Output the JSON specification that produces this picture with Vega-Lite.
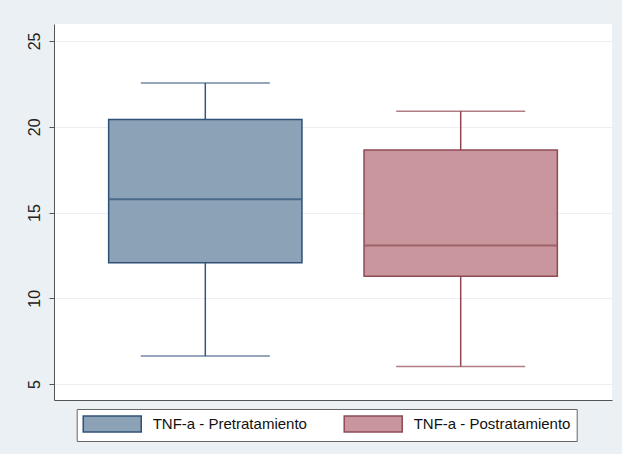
{
  "$schema": "https://vega.github.io/schema/vega-lite/v6.json",
  "width": 558,
  "height": 376,
  "autosize": {"type": "none"},
  "padding": {"left": 54, "top": 24, "right": 10, "bottom": 54},
  "background": "#eaf0f3",
  "config": {
    "view": {"fill": "white", "stroke": null},
    "font": "Liberation Sans",
    "legend": {
      "title": null,
      "orient": "none",
      "legendX": 22.7,
      "legendY": 385,
      "direction": "horizontal",
      "columns": 2,
      "columnPadding": 33,
      "padding": 6,
      "fillColor": "white",
      "strokeColor": "#666666",
      "symbolType": "M-1.06,-1H6.19V1H-1.06Z",
      "symbolSize": 256,
      "symbolStrokeWidth": 1.5,
      "symbolOpacity": 1,
      "labelOffset": 52,
      "labelFontSize": 15,
      "labelFont": "Liberation Sans",
      "labelColor": "#111111",
      "labelLimit": 400
    }
  },
  "data": {
    "values": [
      {"group": "TNF-a - Pretratamiento", "lower": 6.63, "q1": 12.07, "median": 15.78, "q3": 20.42, "upper": 22.55},
      {"group": "TNF-a - Postratamiento", "lower": 6.03, "q1": 11.28, "median": 13.07, "q3": 18.65, "upper": 20.91}
    ]
  },
  "encoding": {
    "x": {
      "field": "group",
      "type": "nominal",
      "sort": ["TNF-a - Pretratamiento", "TNF-a - Postratamiento"],
      "scale": {"paddingInner": 0.243, "paddingOuter": 0.214, "align": 0.5},
      "axis": {"labels": false, "ticks": false, "title": null, "domain": true, "domainColor": "#555555", "domainWidth": 1, "grid": false}
    }
  },
  "layer": [
    {
      "mark": {"type": "rule", "strokeWidth": 1.5},
      "encoding": {
        "y": {
          "field": "lower",
          "type": "quantitative",
          "scale": {"domain": [4.07, 25.99], "nice": false, "zero": false},
          "axis": {
            "values": [5, 10, 15, 20, 25],
            "title": null,
            "grid": true,
            "gridColor": "#eaf0f3",
            "gridWidth": 1,
            "domainColor": "#555555",
            "domainWidth": 1,
            "tickColor": "#555555",
            "tickSize": 5,
            "labelAngle": 270,
            "labelAlign": "center",
            "labelBaseline": "bottom",
            "labelPadding": 7,
            "labelFontSize": 16,
            "labelColor": "#222222",
            "labelFont": "Liberation Sans"
          }
        },
        "y2": {"field": "upper"},
        "stroke": {"condition": {"test": "datum.group === 'TNF-a - Pretratamiento'", "value": "#35577b"}, "value": "#8e4650"}
      }
    },
    {
      "mark": {"type": "bar", "strokeWidth": 1.5, "opacity": 1},
      "encoding": {
        "y": {"field": "q1", "type": "quantitative"},
        "y2": {"field": "q3"},
        "fill": {
          "field": "group",
          "type": "nominal",
          "scale": {"domain": ["TNF-a - Pretratamiento", "TNF-a - Postratamiento"], "range": ["#8ca2b7", "#c8969c"]}
        },
        "stroke": {
          "field": "group",
          "type": "nominal",
          "scale": {"domain": ["TNF-a - Pretratamiento", "TNF-a - Postratamiento"], "range": ["#2f5178", "#8e4a55"]}
        }
      }
    },
    {
      "mark": {"type": "tick", "size": 192, "thickness": 2},
      "encoding": {
        "y": {"field": "median", "type": "quantitative"},
        "fill": {"condition": {"test": "datum.group === 'TNF-a - Pretratamiento'", "value": "#2f5178"}, "value": "#8e4a55"}
      }
    },
    {
      "mark": {"type": "tick", "size": 129, "thickness": 1.5},
      "encoding": {
        "y": {"field": "upper", "type": "quantitative"},
        "fill": {"condition": {"test": "datum.group === 'TNF-a - Pretratamiento'", "value": "#35577b"}, "value": "#8e4650"}
      }
    },
    {
      "mark": {"type": "tick", "size": 129, "thickness": 1.5},
      "encoding": {
        "y": {"field": "lower", "type": "quantitative"},
        "fill": {"condition": {"test": "datum.group === 'TNF-a - Pretratamiento'", "value": "#35577b"}, "value": "#8e4650"}
      }
    }
  ]
}
